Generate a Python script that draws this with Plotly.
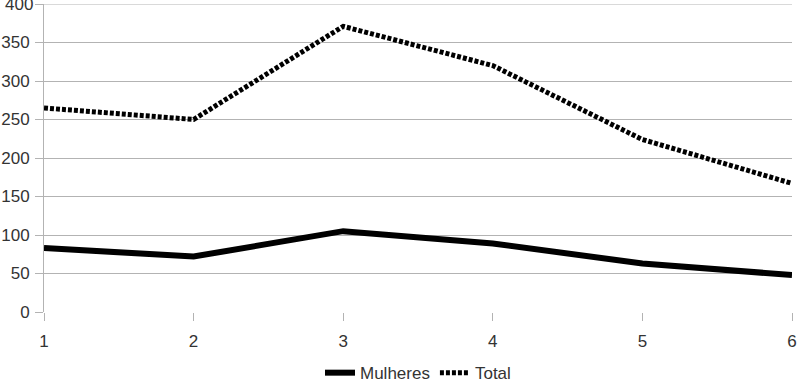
import plotly.graph_objects as go

x_vals = [1, 2, 3, 4, 5, 6]
mulheres = [83, 72, 105, 89, 63, 48]
total = [265, 250, 371, 320, 224, 167]
y_ticks = [0, 50, 100, 150, 200, 250, 300, 350, 400]
y_max = y_ticks[-1]

fig = go.Figure()
fig.add_trace(go.Scatter(x=x_vals, y=mulheres, mode="lines", name="Mulheres",
                         line=dict(color="black", width=6)))
fig.add_trace(go.Scatter(x=x_vals, y=total, mode="lines", name="Total",
                         line=dict(color="black", width=5, dash="4px,2px")))

fig.update_layout(
    width=798, height=381,
    margin=dict(l=44, r=6, t=4, b=69, autoexpand=False),
    plot_bgcolor="white", paper_bgcolor="white",
    font=dict(family="Liberation Sans, Arial, sans-serif", size=17, color="#333333"),
    showlegend=True,
    legend=dict(orientation="h", x=0.5, xanchor="center", y=-0.14, yanchor="top",
                font=dict(size=17, color="#333333"), itemwidth=30, tracegroupgap=0),
)
fig.update_xaxes(range=[1, 6], tickvals=x_vals, showgrid=False, zeroline=False,
                 showline=False, ticks="outside", ticklen=8, tickcolor="#b3b3b3",
                 ticklabelstandoff=6, automargin=False)
fig.update_yaxes(range=[0, y_max], tickvals=y_ticks, showgrid=True, gridcolor="#b3b3b3",
                 zeroline=False, showline=True, linecolor="#b3b3b3", linewidth=1,
                 ticks="outside", ticklen=8, tickcolor="#b3b3b3", automargin=False,
                 ticklabelstandoff=2)

# top gridline + tick label (plotly drops the edge tick here)
fig.add_shape(type="line", xref="paper", yref="y", x0=-0.0107, x1=1, y0=y_max, y1=y_max,
              line=dict(color="#b3b3b3", width=1), layer="below")
fig.add_annotation(xref="paper", yref="y", x=0, y=y_max, text=str(y_max), showarrow=False,
                   xanchor="right", yanchor="middle", xshift=-9,
                   font=dict(size=17, color="#333333"))

fig.write_html("out.html", config={"displayModeBar": False},
               post_script="document.body.style.margin='0';document.body.style.overflow='hidden';")
